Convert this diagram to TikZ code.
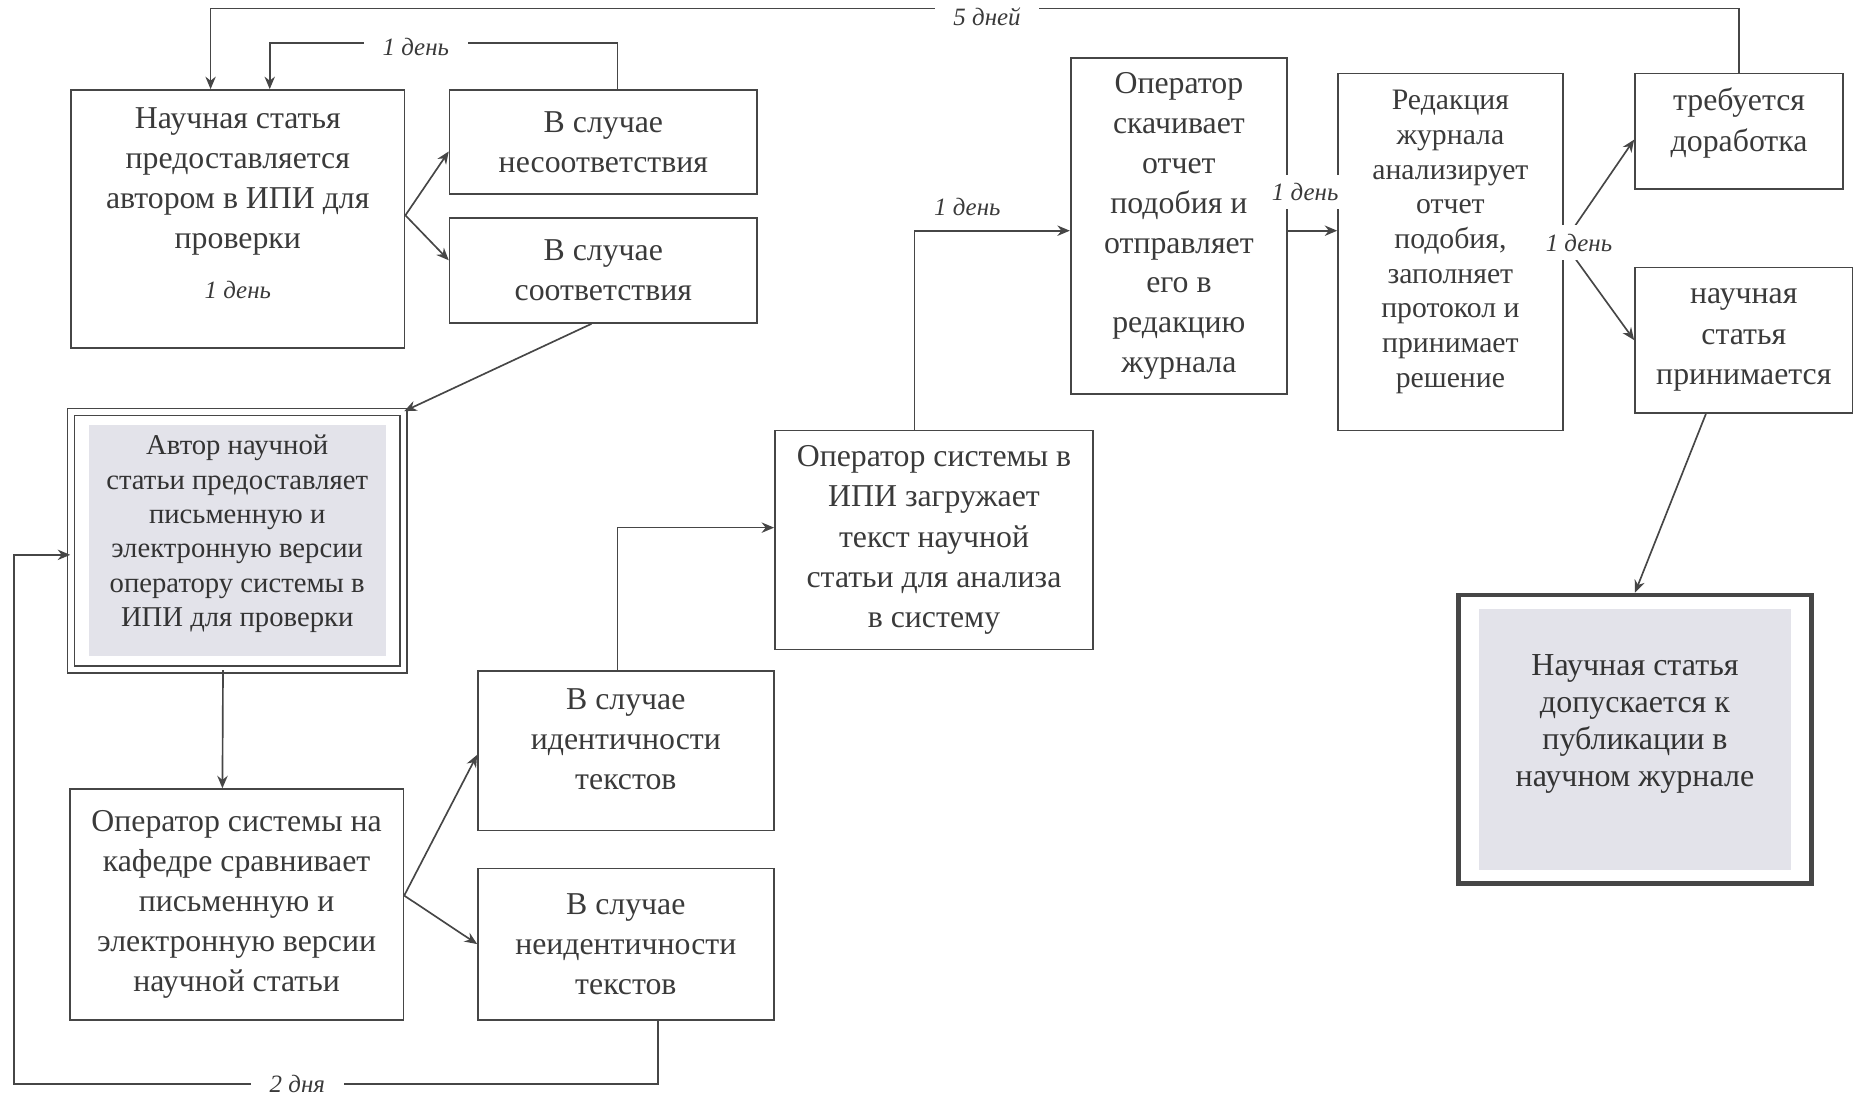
\documentclass[tikz,border=0pt]{standalone}
\usepackage{fontspec}
\setmainfont{Liberation Serif}
\usetikzlibrary{arrows.meta}
\definecolor{linegray}{HTML}{464646}
\definecolor{textgray}{HTML}{3A3A3A}
\definecolor{blockgray}{HTML}{E3E3EA}

\begin{document}
\begin{tikzpicture}[x=0.02cm, y=-0.02cm, >={Stealth[length=6pt,width=5pt]},
  block/.style={rectangle, draw=linegray, line width=0.8pt, align=center, text=textgray, inner sep=2pt, font=\fontsize{15.3}{19.35}\selectfont},
  lbl/.style={fill=white, text=textgray, inner xsep=9pt, inner ysep=4pt, font=\fontsize{12}{14}\selectfont\itshape},
  conn/.style={draw=linegray, line width=0.8pt, ->},
  grayinset/.style 2 args={path picture={\fill[blockgray] ([shift={(#1,-#2)}]path picture bounding box.north west) rectangle ([shift={(-#1,#2)}]path picture bounding box.south east);}}]
\useasboundingbox (0,0) rectangle (1568,927);

\node[block, minimum width=5.64cm, minimum height=4.36cm] (0) at (201,185) {Научная статья\\предоставляется\\автором в ИПИ для\\проверки\\[4.5pt]{\fontsize{12}{14}\selectfont\itshape 1 день}\\[-4pt]\mbox{}};
\node[block, minimum width=5.2cm, minimum height=1.76cm] (1) at (510,120) {В случае\\несоответствия};
\node[block, minimum width=5.2cm, minimum height=1.78cm] (2) at (510,228.5) {В случае\\соответствия};
\node[block, double, double distance=0.09cm, minimum width=5.62cm, minimum height=4.35cm, text=black!80, font=\fontsize{13.8}{16.5}\selectfont, grayinset={0.3cm}{0.22cm}] (3) at (200.5,457) {Автор научной\\статьи предоставляет\\письменную и\\электронную версии\\оператору системы в\\ИПИ для проверки\\[-7pt]\mbox{}};
\node[block, minimum width=5.64cm, minimum height=3.9cm] (4) at (200,764.5) {Оператор системы на\\кафедре сравнивает\\письменную и\\электронную версии\\научной статьи};
\node[block, minimum width=5cm, minimum height=2.7cm] (5) at (529,634.5) {В случае\\идентичности\\текстов\\[-8pt]\mbox{}};
\node[block, minimum width=5cm, minimum height=2.56cm] (6) at (529,798) {В случае\\неидентичности\\текстов};
\node[block, minimum width=5.38cm, minimum height=3.7cm] (7) at (789.5,456.5) {Оператор системы в\\ИПИ загружает\\текст научной\\статьи для анализа\\в систему};
\node[block, minimum width=3.66cm, minimum height=5.68cm, font=\fontsize{15.3}{19.2}\selectfont] (8) at (996.5,191) {Оператор\\скачивает\\отчет\\подобия и\\отправляет\\его в\\редакцию\\журнала};
\node[block, minimum width=3.8cm, minimum height=6.04cm, font=\fontsize{14.3}{16.7}\selectfont] (9) at (1226,213) {Редакция\\журнала\\анализирует\\отчет\\подобия,\\заполняет\\протокол и\\принимает\\решение\\[-4pt]\mbox{}};
\node[block, minimum width=3.52cm, minimum height=1.96cm] (10) at (1470,111) {требуется\\доработка\\[-8pt]\mbox{}};
\node[block, minimum width=3.68cm, minimum height=2.46cm] (11) at (1474,287.5) {научная\\статья\\принимается};
\node[block, line width=2.3pt, minimum width=5.96cm, minimum height=4.88cm, text=black!80, font=\fontsize{15.4}{17.8}\selectfont, grayinset={0.34cm}{0.24cm}] (12) at (1382,625) {Научная статья\\допускается к\\публикации в\\научном журнале\\[0pt]\mbox{}};

\draw[conn] ([yshift=0.06cm]0.east) -- ([yshift=-0.16cm]1.west);
\draw[conn] ([yshift=0.06cm]0.east) -- ([yshift=0.17cm]2.west);
\draw[conn] ([xshift=0.24cm]1.north) -- ++(0,-39) -| node[lbl, pos=0.29, yshift=-0.06cm] {1 день} ([xshift=0.54cm]0.north);
\draw[conn] (10.north) -- ++(0,-54) -| node[lbl, pos=0.246, yshift=-0.14cm] {5 дней} ([xshift=-0.46cm]0.north);
\draw[conn] ([xshift=-0.2cm]2.south) -- (3.north east);
\draw[conn] ([xshift=-0.24cm]3.south) -- ([xshift=-0.24cm]4.north);
\draw[conn] ([yshift=0.15cm]4.east) -- ([yshift=-0.07cm]5.west);
\draw[conn] ([yshift=0.15cm]4.east) -- (6.west);
\coordinate (13) at (12,916);
\draw[conn] ([xshift=0.54cm]6.south) |- node[lbl, pos=0.78] {2 дня} (13) |- ([yshift=-0.24cm]3.west);
\draw[conn] ([xshift=-0.14cm]5.north) |- ([yshift=0.21cm]7.west);
\draw[conn] ([xshift=-0.33cm]7.north) |- node[lbl, fill=none, pos=0.67, yshift=0.4cm] {1 день} ([yshift=-0.08cm]8.west);
\coordinate (14) at ([yshift=-0.08cm]8.east);
\draw[conn] (14) -- node[lbl, pos=0.35, yshift=0.66cm] {1 день} (14 -| 9.west);
\coordinate (15) at ([yshift=0.16cm]9.east);
\draw[conn] (15) -- ([yshift=-0.14cm]10.west);
\draw[conn] (15) -- (11.west);
\node[lbl] (16) at ([xshift=0.26cm]15) {1 день};
\draw[conn] ([xshift=-0.64cm]11.south) -- (12.north);
\end{tikzpicture}
\end{document}
